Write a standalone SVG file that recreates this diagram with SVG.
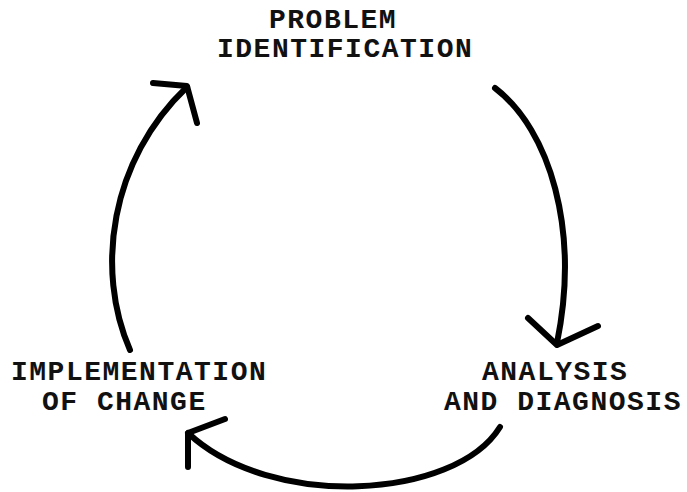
<svg xmlns="http://www.w3.org/2000/svg" width="687" height="492" viewBox="0 0 687 492">
<style>
.t{font-family:"Liberation Mono","Courier New",monospace;font-size:28px;letter-spacing:1.5px;font-weight:bold;fill:#111}
.c{fill:none;stroke:#000;stroke-width:6;stroke-linecap:round;stroke-linejoin:round}
</style>
<rect width="687" height="492" fill="#fff"/>
<g id="problem"><text class="t" x="269" y="28">PROBLEM</text><text class="t" x="217" y="57">IDENTIFICATION</text></g>
<g id="analysis"><text class="t" x="482" y="380">ANALYSIS</text><text class="t" x="444" y="410">AND DIAGNOSIS</text></g>
<g id="implementation"><text class="t" x="11" y="380">IMPLEMENTATION</text><text class="t" x="42" y="410">OF CHANGE</text></g>
<g id="connectors">
<path class="c" d="M495,88 C550,130 580,230 557,343"/>
<polyline class="c" points="528,318 557,345 598,326"/>
<path class="c" d="M500,427 C455,500 270,510 188,433"/>
<polyline class="c" points="225,419 188,433 188,467"/>
<path class="c" d="M130,350 C95,270 110,160 187,87"/>
<polyline class="c" points="153,83 187,86 197,123"/>
</g>
</svg>
